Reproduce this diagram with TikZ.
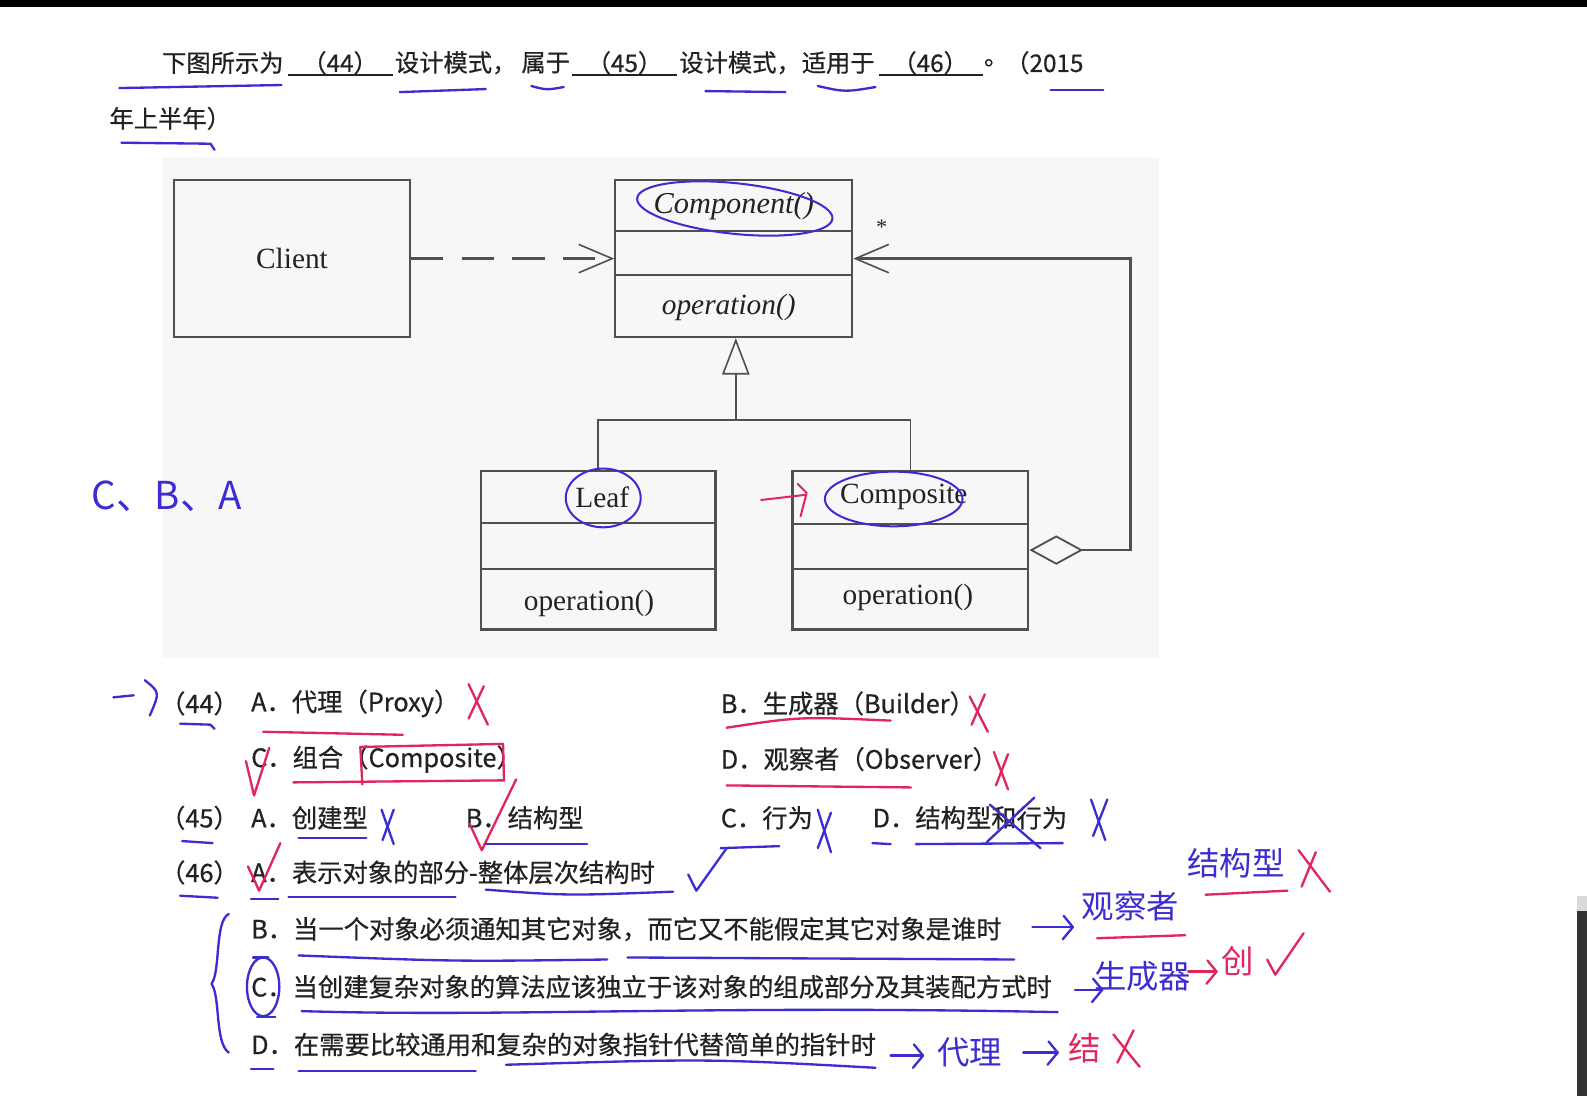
\documentclass[tikz,border=0pt]{standalone}
\usepackage{fontspec}
\setmainfont{Liberation Serif}
\newfontfamily\cjk{Noto Sans CJK SC}
\newfontfamily\cjkb{Noto Sans CJK SC}[FakeBold=0.6]
\usetikzlibrary{arrows.meta,calc}
\definecolor{pb}{HTML}{3C2DD0}
\definecolor{pr}{HTML}{E0265C}
\definecolor{ink}{HTML}{222222}
\definecolor{uml}{HTML}{505050}
\newcommand\hArrow[4]{\draw[#1] (#2,#4) -- (#3,#4); \draw[#1] ($(#3,#4)+(-9,-11)$) -- (#3,#4) -- ($(#3,#4)+(-10,12)$);}
\begin{document}
\begin{tikzpicture}[x=1pt,y=-1pt,
  txt/.style={anchor=west, inner sep=0pt, text=ink, font=\cjkb\fontsize{25}{30}\selectfont},
  ttl/.style={anchor=west, inner sep=0pt, text=ink, font=\cjkb\fontsize{24}{28}\selectfont},
  umlbox/.style={draw=uml, line width=2.2pt, inner sep=0pt},
  umlline/.style={draw=uml, line width=1.6pt},
  divider/.style={draw=uml, line width=2pt},
  lbl/.style={text=ink, font=\fontsize{29}{34}\selectfont, inner sep=0pt},
  ilbl/.style={text=ink, font=\fontsize{29}{34}\selectfont\itshape, inner sep=0pt},
  bpen/.style={draw=pb, line width=2.3pt, line cap=round, line join=round},
  rpen/.style={draw=pr, line width=2.3pt, line cap=round, line join=round},
  hand/.style={inner sep=0pt, font=\cjk\fontsize{32}{32}\selectfont},
  blank/.style={draw=ink, line width=1.5pt},
]
\fill[white] (0,0) rectangle (1568,1083);
\useasboundingbox (0,0) rectangle (1568,1083);
\fill[black] (0,0) rectangle (1568,7);
\fill[black!80] (1558,885) rectangle (1568,1083);
\fill[black!15] (1558,885) rectangle (1568,900);
\fill[gray!6] (160,155) rectangle (1145,650);

% ---------- title ----------
\node[ttl] (t1) at (160,62) {下图所示为};
\node[ttl, anchor=center] (t2) at (336,62) {（44）};
\draw[blank] (285,74) -- (388,74);
\node[ttl] (t3) at (390,62) {设计模式，};
\node[ttl] (t4) at (515,62) {属于};
\node[ttl, anchor=center] (t5) at (617,62) {（45）};
\draw[blank] (565,74) -- (669,74);
\node[ttl] (t6) at (671,62) {设计模式，};
\node[ttl] (t7) at (792,62) {适用于};
\node[ttl, anchor=center] (t8) at (919,62) {（46）};
\draw[blank] (868,74) -- (971,74);
\node[ttl] (t9) at (972,62) {。};
\node[ttl] (t10) at (993,62) {（2015};
\node[ttl] (t11) at (108,117) {年上半年）};

% ---------- UML diagram ----------
\node[umlbox, minimum width=233pt, minimum height=155pt, lbl] (client) at (288.5,255.5) {Client};
\node[umlbox, minimum width=234pt, minimum height=155pt] (component) at (725,255.5) {};
\draw[divider] (608,228) -- (842,228);
\draw[divider] (608,272) -- (842,272);
\node[ilbl, font=\fontsize{30}{34}\selectfont\itshape] (cname) at (725,204) {Component()};
\node[ilbl] (cop) at (720,304) {operation()};

\node[umlbox, minimum width=232pt, minimum height=157pt] (leaf) at (591,543.5) {};
\draw[divider] (475,517) -- (707,517);
\draw[divider] (475,562) -- (707,562);
\node[lbl] (lname) at (595,491) {Leaf};
\node[lbl] (lop) at (582,596) {operation()};

\node[umlbox, minimum width=233pt, minimum height=157pt] (composite) at (899.5,543.5) {};
\draw[divider] (783,518) -- (1016,518);
\draw[divider] (783,562) -- (1016,562);
\node[lbl] (coname) at (893,491) {Composite};
\node[lbl] (coop) at (897,590) {operation()};

\node[lbl, font=\fontsize{22}{22}\selectfont] (star) at (871,224) {*};

\draw[umlline, line width=2.2pt, dash pattern=on 32pt off 18pt, -{Straight Barb[length=33pt,width=28pt,line width=1.6pt]}] (client.east) -- (component.west);

\coordinate (j) at (727,415);
\draw[umlline] (leaf.north) |- (j) -| (composite.north);
\draw[umlline, -{Triangle[open, width=27pt, length=36pt, line width=1.6pt]}] (j) -- (j |- component.south);

\coordinate (cr) at (1117,400);
\draw[umlline, line width=2.2pt, {Diamond[open, length=53pt, width=29pt, line width=1.8pt]}-{Straight Barb[length=33pt,width=28pt,line width=1.6pt]}] (composite.east) -| (cr) |- (component.east);

% ---------- options ----------
\node[txt] (q44) at (158,695) {（44）};
\node[txt] (o44a) at (248,695) {A．代理（Proxy）};
\node[txt] (o44b) at (712,695) {B．生成器（Builder）};
\node[txt] (o44c) at (248,750) {C．组合（Composite）};
\node[txt] (o44d) at (712,750) {D．观察者（Observer）};
\node[txt] (q45) at (158,808) {（45）};
\node[txt] (o45a) at (248,808) {A．创建型};
\node[txt] (o45b) at (460,808) {B．结构型};
\node[txt] (o45c) at (712,808) {C．行为};
\node[txt] (o45d) at (862,808) {D．结构型和行为};
\node[txt] (q46) at (158,862) {（46）};
\node[txt] (o46a) at (248,862) {A．表示对象的部分-整体层次结构时};
\node[txt] (o46b) at (248,918) {B．当一个对象必须通知其它对象，而它又不能假定其它对象是谁时};
\node[txt] (o46c) at (248,975) {C．当创建复杂对象的算法应该独立于该对象的组成部分及其装配方式时};
\node[txt] (o46d) at (248,1032) {D．在需要比较通用和复杂的对象指针代替简单的指针时};

% ---------- handwriting ----------
\draw[bpen] (118,87) -- (278,84);
\draw[bpen] (395,91) -- (480,88);
\draw[bpen] (525,85) .. controls (540,89) .. (557,86);
\draw[bpen] (697,90) -- (776,91);
\draw[bpen] (808,85) .. controls (835,91) .. (865,86);
\draw[bpen] (1038,89) -- (1090,89);
\draw[bpen] (120,141) -- (208,142) -- (212,148);
\draw[bpen, line width=2pt] (726,206) ellipse [x radius=97, y radius=25, rotate=-6];
\draw[bpen, line width=2pt] (596,492) ellipse [x radius=37, y radius=29];
\draw[bpen, line width=2pt] (883,493) ellipse [x radius=68, y radius=27];
\draw[rpen, line width=2pt] (752,494) -- (795,489);
\draw[rpen, line width=2pt] (788,478) -- (797,487) -- (791,510);
\node[hand, text=pb, font=\cjk\fontsize{38}{38}\selectfont] (cba) at (165,490) {C、B、A};

% (44)
\draw[bpen] (112,689) -- (132,687);
\draw[bpen] (143,672) .. controls (158,684) .. (148,707);
\draw[bpen] (178,715) -- (208,716) -- (212,720);
\draw[rpen] (260,723) -- (398,726);
\draw[rpen] (463,676) -- (482,716);
\draw[rpen] (478,678) -- (463,710);
\draw[rpen] (718,719) .. controls (790,708) .. (880,712);
\draw[rpen] (958,688) -- (976,723);
\draw[rpen] (973,686) -- (960,716);
\draw[rpen] (243,752) -- (251,786) -- (266,739);
\draw[rpen] (358,775) -- (356,738) -- (497,735) -- (498,771);
\draw[rpen] (290,773) -- (498,771);
\draw[rpen] (718,776) -- (900,778);
\draw[rpen] (982,743) -- (996,780);
\draw[rpen] (996,745) -- (984,776);
% (45)
\draw[bpen] (180,831) -- (210,833);
\draw[bpen] (295,828) -- (362,828);
\draw[bpen] (377,800) -- (389,834);
\draw[bpen] (389,800) -- (378,830);
\draw[rpen] (464,814) -- (476,840) -- (510,770);
\draw[bpen] (480,834) -- (580,834);
\draw[bpen] (712,838) -- (770,836);
\draw[bpen] (808,800) -- (821,842);
\draw[bpen] (821,803) -- (808,838);
\draw[bpen] (862,833) -- (880,834);
\draw[bpen] (905,834) -- (1050,833);
\draw[bpen] (975,832) -- (1022,788);
\draw[bpen] (978,795) -- (1028,838);
\draw[bpen] (1078,790) -- (1092,830);
\draw[bpen] (1094,790) -- (1080,826);
% (46)
\draw[rpen] (245,856) -- (256,880) -- (277,833);
\draw[bpen] (178,885) -- (215,887);
\draw[bpen] (248,888) -- (275,888);
\draw[bpen] (285,886) -- (450,886);
\draw[bpen] (480,879) .. controls (560,885) .. (665,881);
\draw[bpen] (680,864) -- (688,880) -- (718,838);
\node[hand, text=pb] (hw1) at (1221,853) {结构型};
\draw[rpen] (1191,884) -- (1272,880);
\draw[rpen] (1283,840) -- (1314,881);
\draw[rpen] (1300,842) -- (1286,876);
\draw[bpen] (226,903) .. controls (212,910) and (218,960) .. (209,972) .. controls (218,985) and (212,1030) .. (226,1040);
% B
\draw[bpen] (250,946) -- (265,946);
\draw[bpen] (295,944) .. controls (450,950) .. (600,948);
\draw[bpen] (620,946) -- (1002,948);
\hArrow{bpen}{1020}{1060}{916}
\node[hand, text=pb] (hw2) at (1117,895) {观察者};
\draw[rpen] (1084,927) -- (1171,924);
% C
\draw[bpen] (260,975) ellipse [x radius=16, y radius=29];
\draw[bpen] (254,1005) -- (272,1005);
\draw[bpen] (298,999) .. controls (500,1005) and (700,993) .. (1045,1000);
\hArrow{bpen}{1062}{1089}{978}
\node[hand, text=pb] (hw3) at (1129,965) {生成器};
\hArrow{rpen}{1174}{1202}{960}
\node[hand, text=pr] (hw4) at (1223,950) {创};
\draw[rpen] (1252,948) -- (1260,963) -- (1288,922);
% D
\draw[bpen] (248,1056) -- (270,1056);
\draw[bpen] (295,1058) -- (470,1058);
\draw[bpen] (500,1052) .. controls (700,1046) .. (865,1055);
\hArrow{bpen}{880}{912}{1043}
\node[hand, text=pb] (hw5) at (958,1040) {代理};
\hArrow{bpen}{1011}{1045}{1040}
\node[hand, text=pr] (hw6) at (1072,1036) {结};
\draw[rpen] (1100,1022) -- (1126,1054);
\draw[rpen] (1120,1018) -- (1104,1050);
\end{tikzpicture}
\end{document}
